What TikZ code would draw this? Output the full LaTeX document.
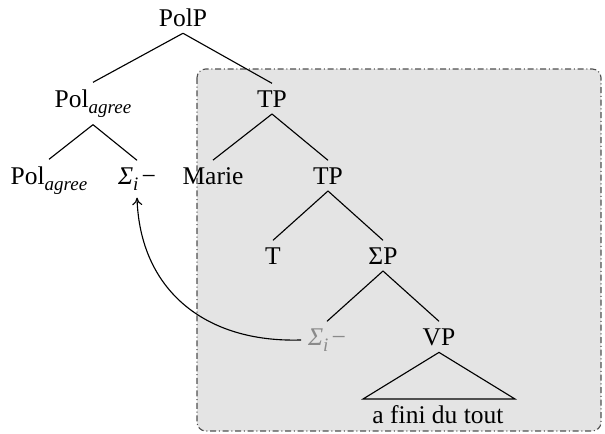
\documentclass[tikz,border=0pt]{standalone}
\usepackage{fontspec}
\setmainfont{Liberation Serif}
\usetikzlibrary{arrows.meta}
\definecolor{boxfill}{HTML}{E4E4E4}
\definecolor{boxline}{HTML}{505050}
\definecolor{tracegray}{HTML}{8A8A8A}
\newcommand{\mysub}[1]{\raisebox{-0.26em}{\fontsize{7.6}{8}\selectfont\textit{#1}}}
\newcommand{\sigi}{\textit{Σ}\mysub{i}\kern0.12em−}
\begin{document}
\begin{tikzpicture}[x=0.4pt,y=-0.4pt,
  lbl/.style={anchor=base,inner sep=2.6pt,font=\fontsize{10.2}{12}\selectfont},
  edge/.style={draw=black,line width=0.45pt},
  phasebox/.style={fill=boxfill,draw=boxline,line width=0.45pt,rounded corners=3.5pt,
    dash pattern=on 2.4pt off 1.1pt on 0.4pt off 1.1pt}]
\useasboundingbox (0,0) rectangle (605,433);
\path[phasebox] (197,69) rectangle (601,431);
% nodes
\node[lbl] (polp) at (183,26) {PolP};
\node[lbl] (polag) at (93,107) {Pol\mysub{agree}};
\node[lbl] (tp1) at (272,107) {TP};
\node[lbl] (polagl) at (49,184) {Pol\mysub{agree}};
\node[lbl] (sig) at (137,184) {\sigi};
\node[lbl] (marie) at (213,184) {Marie};
\node[lbl] (tp2) at (328,184) {TP};
\node[lbl] (t) at (273,264) {T};
\node[lbl] (sigp) at (383,264) {ΣP};
\node[lbl,text=tracegray] (sigtr) at (327,345) {\sigi};
\node[lbl] (vp) at (439,345) {VP};
\node[lbl] (afini) at (438,423) {a fini du tout};
\coordinate (trl) at (363,399);
\coordinate (trr) at (515,399);
% edges
\draw[edge] (polp.south) -- (polag.north);
\draw[edge] (polp.south) -- (tp1.north);
\draw[edge] (polag.south) -- (polagl.north);
\draw[edge] (polag.south) -- (sig.north);
\draw[edge] (tp1.south) -- (marie.north);
\draw[edge] (tp1.south) -- (tp2.north);
\draw[edge] (tp2.south) -- (t.north);
\draw[edge] (tp2.south) -- (sigp.north);
\draw[edge] (sigp.south) -- (sigtr.north);
\draw[edge] (sigp.south) -- (vp.north);
\draw[edge] (vp.south) -- (trl) -- (trr) -- cycle;
% movement arrow
\draw[edge,-{To[length=3pt,width=4pt]}] (sigtr.west) .. controls (205,343) and (140,290) .. (sig.south);
\end{tikzpicture}
\end{document}
